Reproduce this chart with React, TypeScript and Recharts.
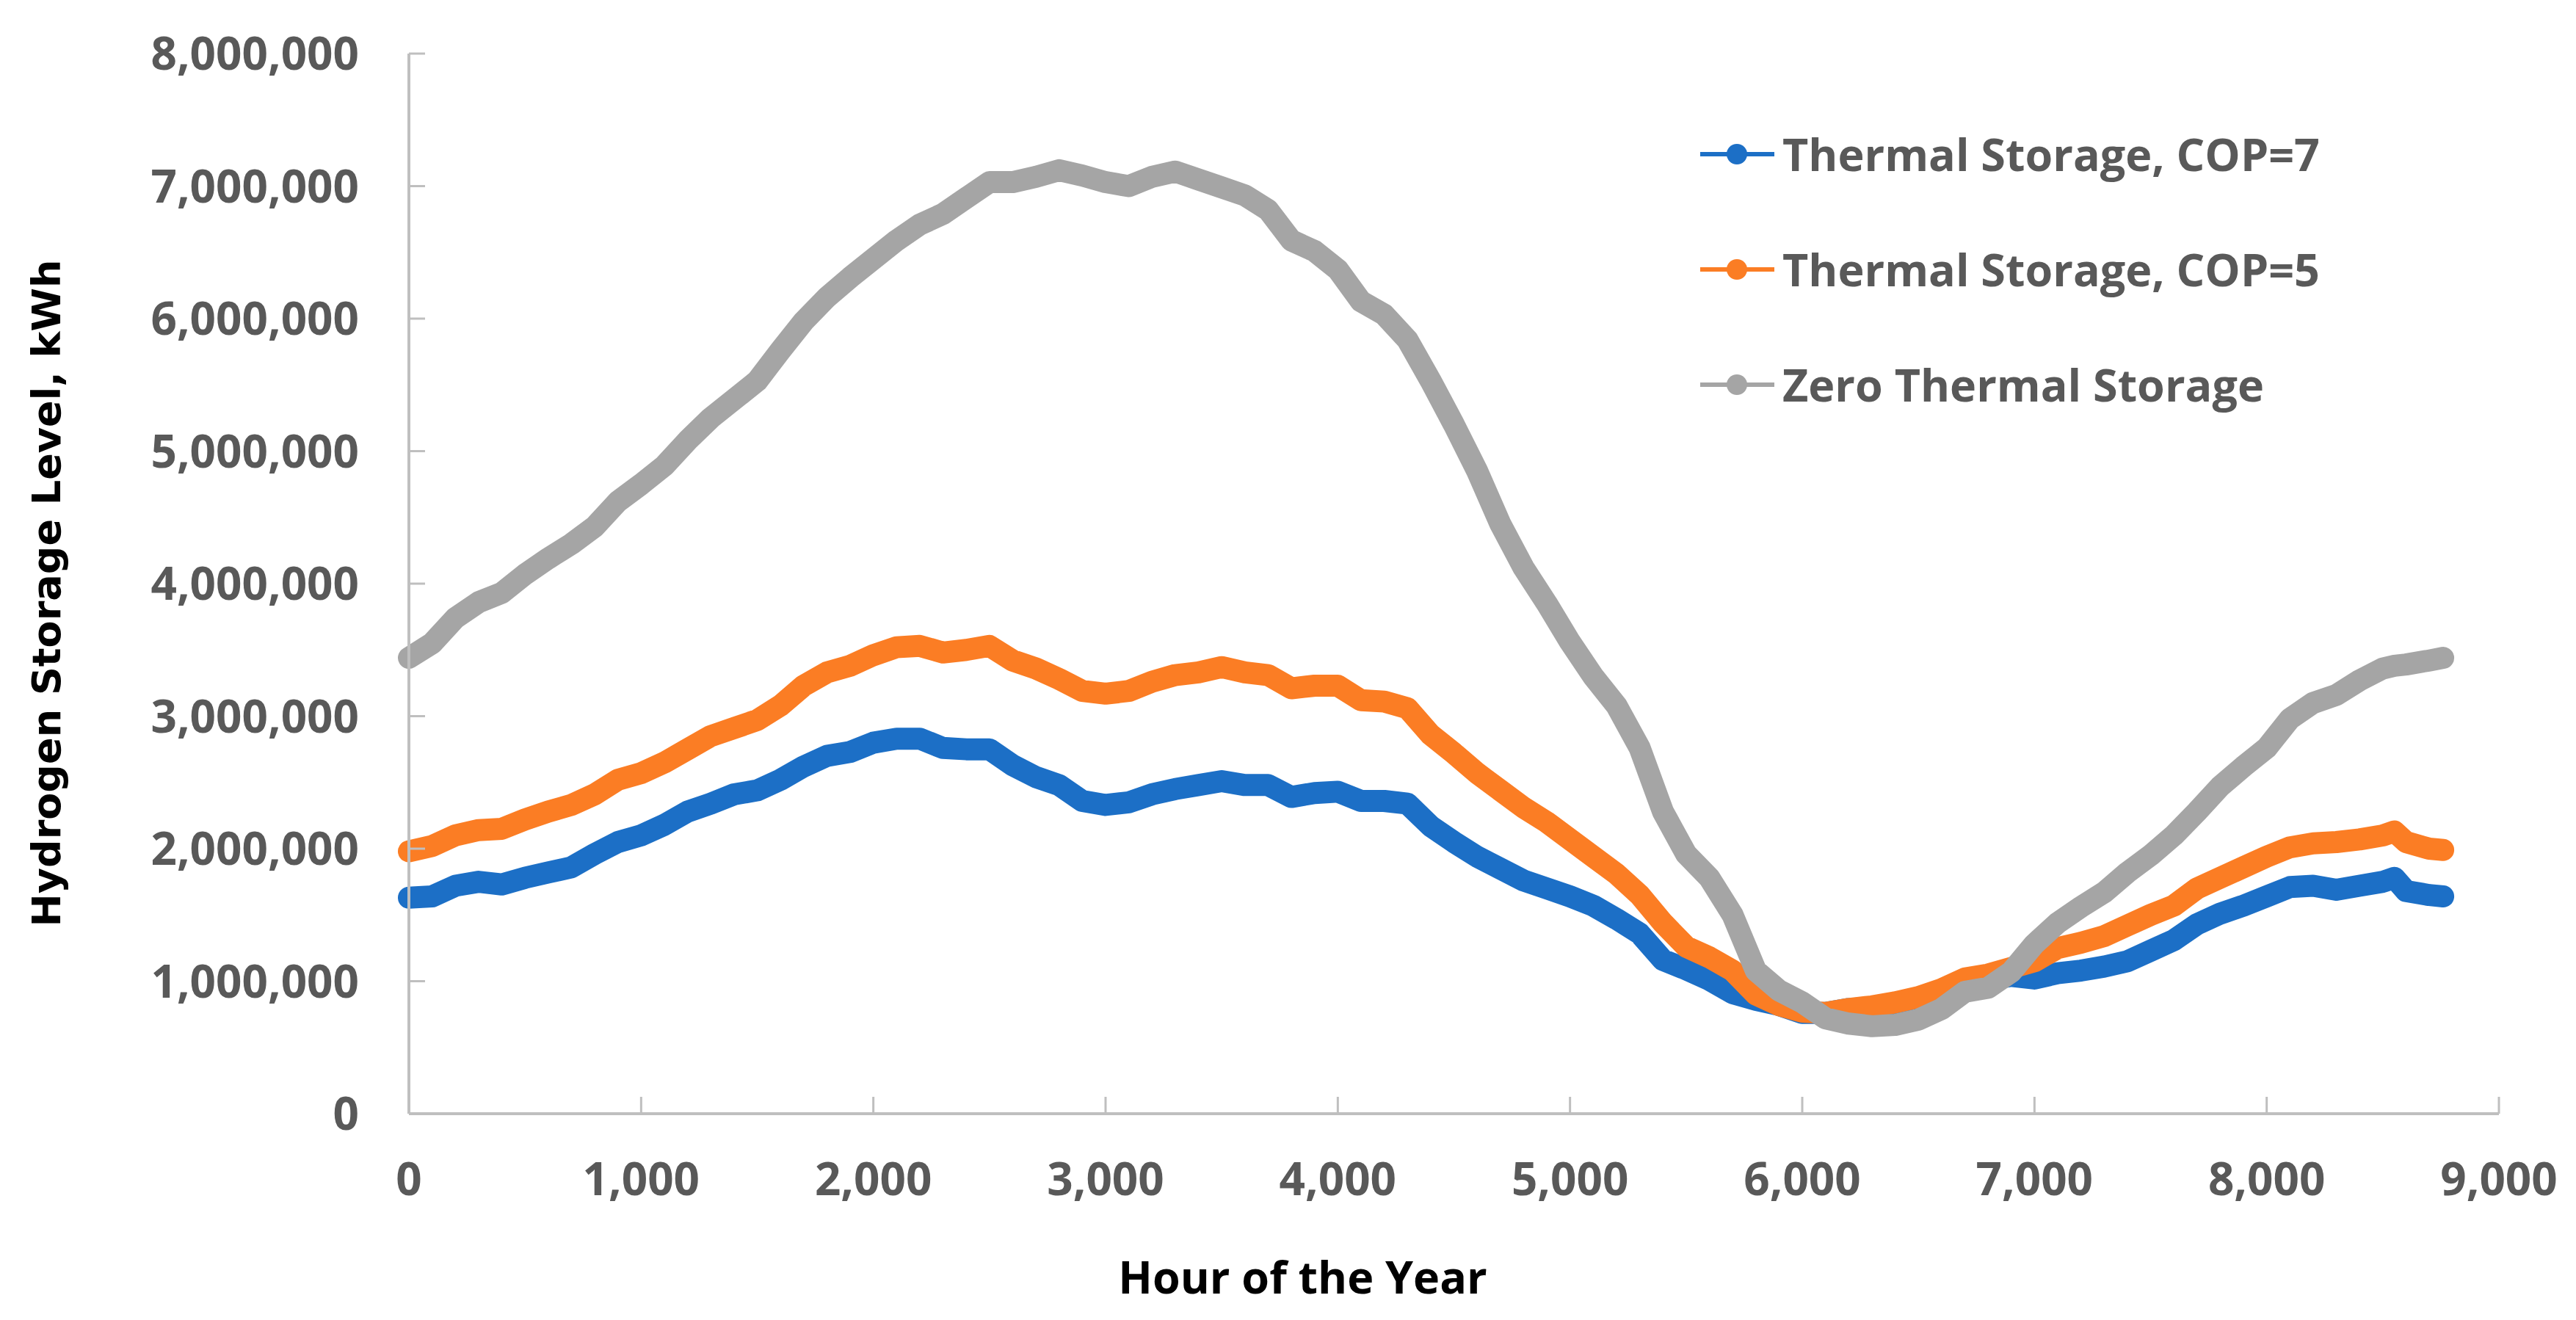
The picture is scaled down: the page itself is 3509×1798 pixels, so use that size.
import React from 'react';
import { LineChart, Line, XAxis, YAxis, Legend, Label } from 'recharts';

const HOURS = [0,100,200,300,400,500,600,700,800,900,1000,1100,1200,1300,1400,1500,1600,1700,1800,1900,2000,2100,2200,2300,2400,2500,2600,2700,2800,2900,3000,3100,3200,3300,3400,3500,3600,3700,3800,3900,4000,4100,4200,4300,4400,4500,4600,4700,4800,4900,5000,5100,5200,5300,5400,5500,5600,5700,5800,5900,6000,6100,6200,6300,6400,6500,6600,6700,6800,6900,7000,7100,7200,7300,7400,7500,7600,7700,7800,7900,8000,8100,8200,8300,8400,8500,8550,8600,8700,8760];

// millions of kWh
const COP7 = [1.63,1.64,1.72,1.75,1.73,1.78,1.82,1.86,1.96,2.05,2.10,2.18,2.28,2.34,2.41,2.44,2.52,2.62,2.70,2.73,2.80,2.83,2.83,2.76,2.75,2.75,2.63,2.54,2.48,2.36,2.33,2.35,2.41,2.45,2.48,2.51,2.48,2.48,2.39,2.42,2.43,2.36,2.36,2.34,2.17,2.05,1.94,1.85,1.76,1.70,1.64,1.57,1.47,1.36,1.16,1.09,1.01,0.91,0.86,0.82,0.76,0.76,0.79,0.80,0.81,0.86,0.92,0.99,1.01,1.04,1.02,1.06,1.08,1.11,1.15,1.23,1.31,1.43,1.51,1.57,1.64,1.71,1.72,1.69,1.72,1.75,1.78,1.68,1.65,1.64];
const COP5 = [1.98,2.02,2.10,2.14,2.15,2.22,2.28,2.33,2.41,2.52,2.57,2.65,2.75,2.85,2.91,2.97,3.08,3.23,3.33,3.38,3.46,3.52,3.53,3.48,3.50,3.53,3.42,3.36,3.28,3.19,3.17,3.19,3.26,3.31,3.33,3.37,3.33,3.31,3.21,3.23,3.23,3.12,3.11,3.06,2.86,2.72,2.57,2.44,2.31,2.20,2.07,1.94,1.81,1.65,1.44,1.26,1.18,1.08,0.90,0.82,0.77,0.76,0.79,0.81,0.84,0.88,0.94,1.02,1.05,1.10,1.15,1.25,1.29,1.34,1.42,1.50,1.57,1.70,1.78,1.86,1.94,2.01,2.04,2.05,2.07,2.10,2.13,2.05,2.00,1.99];
const ZERO = [3.44,3.55,3.74,3.86,3.93,4.07,4.19,4.30,4.43,4.62,4.75,4.89,5.08,5.25,5.39,5.53,5.76,5.98,6.16,6.31,6.45,6.59,6.71,6.79,6.91,7.03,7.03,7.07,7.12,7.08,7.03,7.00,7.07,7.11,7.05,6.99,6.93,6.82,6.59,6.51,6.37,6.13,6.03,5.84,5.53,5.20,4.85,4.45,4.12,3.85,3.56,3.30,3.08,2.76,2.28,1.96,1.78,1.50,1.08,0.93,0.84,0.72,0.68,0.66,0.67,0.71,0.79,0.92,0.95,1.07,1.28,1.44,1.56,1.67,1.82,1.95,2.10,2.28,2.47,2.62,2.76,2.98,3.10,3.16,3.27,3.36,3.38,3.39,3.42,3.44];

const X_TICKS = [0,1000,2000,3000,4000,5000,6000,7000,8000,9000];
const Y_TICKS = [0,1000000,2000000,3000000,4000000,5000000,6000000,7000000,8000000];

const SERIES = [
  { key: 'cop7', name: 'Thermal Storage, COP=7', color: '#1C6FC6', values: COP7 },
  { key: 'cop5', name: 'Thermal Storage, COP=5', color: '#FB7D24', values: COP5 },
  { key: 'zero', name: 'Zero Thermal Storage', color: '#A5A5A5', values: ZERO },
];

const data = HOURS.map((h, i) => {
  const row: any = { hour: h };
  SERIES.forEach((s) => { row[s.key] = Math.round(s.values[i] * 1e6); });
  return row;
});

const AXIS = '#BFBFBF';
const TICK_COLOR = '#595959';
const FONT = '"Open Sans", sans-serif';
const fmt = (v: number) => v.toLocaleString('en-US');

const YTick = (props: any) => {
  const { x, y, payload } = props;
  return (
    <g>
      {payload.value !== 0 && (
        <line x1={x + 68} x2={x + 90} y1={y} y2={y} stroke={AXIS} strokeWidth={3} />
      )}
      <text x={x} y={y} dy="0.36em" textAnchor="end" fill={TICK_COLOR}
        fontFamily={FONT} fontWeight={700} fontSize={62}>{fmt(payload.value)}</text>
    </g>
  );
};

const XTick = (props: any) => {
  const { x, y, payload } = props;
  return (
    <g>
      {payload.value !== 0 && (
        <line x1={x} x2={x} y1={y - 67} y2={y - 90} stroke={AXIS} strokeWidth={3} />
      )}
      <text x={x} y={y} dy="0.71em" textAnchor="middle" fill={TICK_COLOR}
        fontFamily={FONT} fontWeight={700} fontSize={62}>{fmt(payload.value)}</text>
    </g>
  );
};

const LegendContent = () => (
  <div>
    {SERIES.map((s) => (
      <div key={s.key} style={{ height: 157, display: 'flex', alignItems: 'center' }}>
        <svg width={112} height={40} style={{ flex: 'none' }}>
          <line x1={0} x2={101} y1={20} y2={20} stroke={s.color} strokeWidth={6} />
          <circle cx={50} cy={20} r={14} fill={s.color} />
        </svg>
        <span style={{ fontFamily: FONT, fontWeight: 700, fontSize: 61, color: TICK_COLOR, whiteSpace: 'nowrap', lineHeight: 1 }}>
          {s.name}
        </span>
      </div>
    ))}
  </div>
);

const YTitle = (props: any) => {
  const { viewBox } = props;
  const cx = 82;
  const cy = viewBox.y + viewBox.height / 2 + 13;
  return (
    <text x={cx} y={cy} transform={`rotate(-90 ${cx} ${cy})`} textAnchor="middle"
      fontFamily='"DejaVu Sans", sans-serif' fontWeight={700} fontSize={54} fill="#000">
      Hydrogen Storage Level, kWh
    </text>
  );
};

const XTitle = (props: any) => {
  const { viewBox } = props;
  const cx = viewBox.x + viewBox.width / 2 - 206;
  const cy = viewBox.y + 245;
  return (
    <text x={cx} y={cy} textAnchor="middle" fontFamily={FONT} fontWeight={700} fontSize={61} fill="#000">
      Hour of the Year
    </text>
  );
};

export default function App() {
  return (
    <div style={{ position: 'absolute', left: 0, top: 0, width: 3509, height: 1798, background: '#fff' }}>
      <LineChart width={3509} height={1798} data={data}
        margin={{ top: 73, right: 105, bottom: 81, left: 0 }}>
        <XAxis dataKey="hour" type="number" domain={[0, 9000]} ticks={X_TICKS}
          height={200} tickSize={0} tickMargin={67} tick={<XTick />}
          axisLine={{ stroke: AXIS, strokeWidth: 4 }} tickLine={false} interval={0}>
          <Label content={<XTitle />} />
        </XAxis>
        <YAxis type="number" domain={[0, 8000000]} ticks={Y_TICKS} width={557}
          tickSize={0} tickMargin={68} tick={<YTick />} interval={0}
          axisLine={{ stroke: AXIS, strokeWidth: 4 }} tickLine={false}>
          <Label content={<YTitle />} />
        </YAxis>
        <Legend layout="vertical" align="center" verticalAlign="middle"
          wrapperStyle={{ left: 2316, top: 131, width: 1150, height: 471 }}
          content={<LegendContent />} />
        {SERIES.map((s) => (
          <Line key={s.key} dataKey={s.key} name={s.name} type="linear" stroke={s.color}
            strokeWidth={30} dot={false} isAnimationActive={false}
            strokeLinejoin="round" strokeLinecap="round" />
        ))}
      </LineChart>
    </div>
  );
}
